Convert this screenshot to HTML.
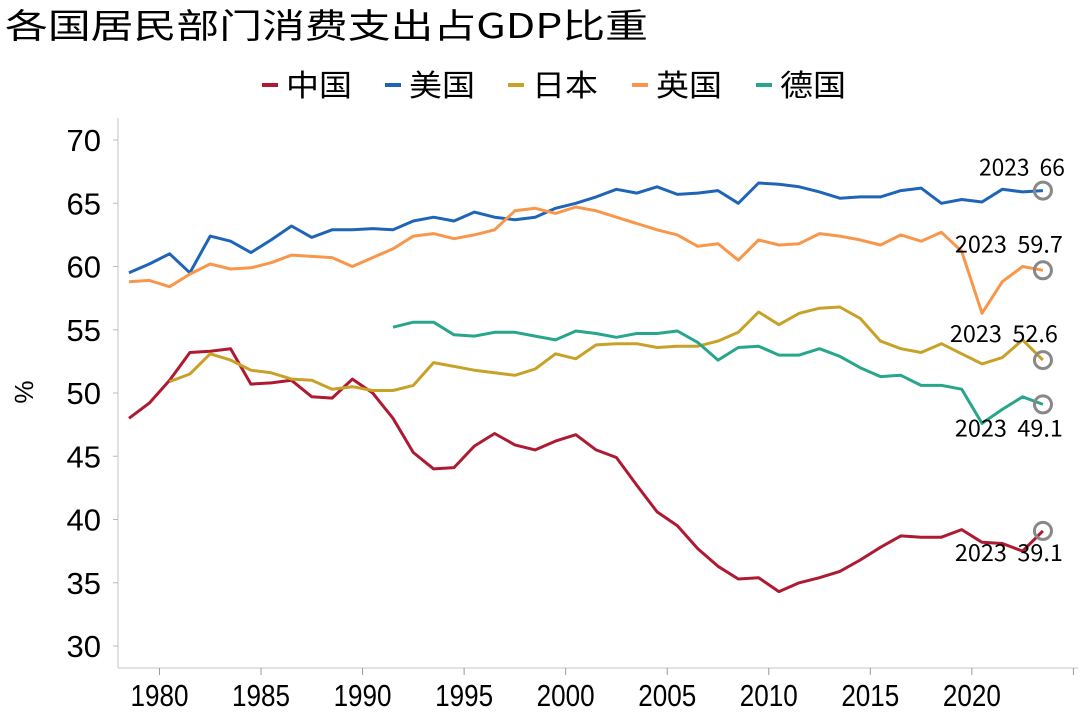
<!DOCTYPE html>
<html><head><meta charset="utf-8">
<style>
html,body{margin:0;padding:0;background:#fff;}
svg{display:block;font-family:"Liberation Sans","Noto Sans CJK SC",sans-serif;}
</style></head>
<body>
<svg id="chart" width="1080" height="719" viewBox="0 0 1080 719" xmlns="http://www.w3.org/2000/svg">
<text x="5" y="38" font-size="34" font-family="'Noto Sans CJK SC',sans-serif" fill="#000" textLength="643" lengthAdjust="spacingAndGlyphs">各国居民部门消费支出占GDP比重</text>
<g id="legend"></g>
<g id="axes"></g>
<g id="series"></g>
<g id="annot"></g>
</svg>
<script>
const names = ["中国","美国","日本","英国","德国"];
const colors = ["#ae1a31","#1f65b7","#c8a228","#f8974b","#28a68c"];
const startYears = [1978,1978,1980,1978,1991];
const china = [48,49.2,51,53.2,53.3,53.5,50.7,50.8,51,49.7,49.6,51.1,50,48,45.3,44,44.1,45.8,46.8,45.9,45.5,46.2,46.7,45.5,44.9,42.7,40.6,39.5,37.7,36.3,35.3,35.4,34.3,35,35.4,35.9,36.8,37.8,38.7,38.6,38.6,39.2,38.2,38.1,37.5,39.1];
const usa = [59.5,60.2,61,59.5,62.4,62,61.1,62.1,63.2,62.3,62.9,62.9,63,62.9,63.6,63.9,63.6,64.3,63.9,63.7,63.9,64.6,65,65.5,66.1,65.8,66.3,65.7,65.8,66,65,66.6,66.5,66.3,65.9,65.4,65.5,65.5,66,66.2,65,65.3,65.1,66.1,65.9,66];
const japan = [50.9,51.5,53.1,52.6,51.8,51.6,51.1,51,50.3,50.5,50.2,50.2,50.6,52.4,52.1,51.8,51.6,51.4,51.9,53.1,52.7,53.8,53.9,53.9,53.6,53.7,53.7,54.1,54.8,56.4,55.4,56.3,56.7,56.8,55.9,54.1,53.5,53.2,53.9,53.1,52.3,52.8,54.2,52.6];
const uk = [58.8,58.9,58.4,59.4,60.2,59.8,59.9,60.3,60.9,60.8,60.7,60,60.7,61.4,62.4,62.6,62.2,62.5,62.9,64.4,64.6,64.2,64.7,64.4,63.9,63.4,62.9,62.5,61.6,61.8,60.5,62.1,61.7,61.8,62.6,62.4,62.1,61.7,62.5,62,62.7,61.2,56.3,58.8,60,59.7];
const germany = [55.2,55.6,55.6,54.6,54.5,54.8,54.8,54.5,54.2,54.9,54.7,54.4,54.7,54.7,54.9,54,52.6,53.6,53.7,53,53,53.5,52.9,52,51.3,51.4,50.6,50.6,50.3,47.6,48.7,49.7,49.1];
const yTicks = [30,35,40,45,50,55,60,65,70];
const xTickLabels = ["1980","1985","1990","1995","2000","2005","2010","2015","2020"];
const annotLabels = ["2023\u00a0 39.1","2023\u00a0 66","2023\u00a0 52.6","2023\u00a0 59.7","2023\u00a0 49.1"];

const NS="http://www.w3.org/2000/svg";
function mk(tag, attrs, parent){const e=document.createElementNS(NS,tag);for(const k in attrs)e.setAttribute(k,attrs[k]);parent.appendChild(e);return e;}
function x(yr){return 129 + (yr-1978)*20.31;}
function y(v){return 646 - (v-30)*12.65;}
const axes=document.getElementById('axes');
const seriesG=document.getElementById('series');
const annot=document.getElementById('annot');
const legend=document.getElementById('legend');

let yl=mk('line',{x1:118,y1:118,x2:118,y2:668,stroke:'#d9d9d9','stroke-width':1.5},axes);


let xl=mk('line',{x1:118,y1:668,x2:1078,y2:668,stroke:'#d9d9d9','stroke-width':1.5},axes);


yTicks.forEach(v=>{
  const t=mk('line',{x1:113,x2:118,y1:y(v),y2:y(v),stroke:'#bbb','stroke-width':1},axes);
  
  
  const l=mk('text',{x:101,y:y(v)+11,'font-size':31,'text-anchor':'end',fill:'#000'},axes);
  
  
  l.textContent=v;
});
for(let i=0;i<=9;i++){
  const tx=x(1979.5+5*i);
  const t=mk('line',{x1:tx,x2:tx,y1:668,y2:675,stroke:'#999','stroke-width':1},axes);
  
  
}
xTickLabels.forEach((s,i)=>{
  const l=mk('text',{x:x(1979.5+5*i),y:706,'font-size':31,'text-anchor':'middle',fill:'#000',textLength:58,lengthAdjust:'spacingAndGlyphs'},axes);
  
  
  l.textContent=s;
});
const yt=mk('text',{x:0,y:0,'font-size':26,'text-anchor':'middle',fill:'#000',transform:'translate(33,392) rotate(-90)'},axes);


yt.textContent='%';

const data=[china,usa,japan,uk,germany];
const seriesNames=['china-line','usa-line','japan-line','uk-line','germany-line'];
data.forEach((arr,si)=>{
  const pts=arr.map((v,i)=>x(startYears[si]+i).toFixed(1)+','+y(v).toFixed(1)).join(' ');
  const p=mk('polyline',{points:pts,fill:'none',stroke:colors[si],'stroke-width':3,'stroke-linejoin':'round'},seriesG);
  
  
});

const annOffsets=[[-88,30],[-64,-15],[-93,-18],[-88,-18],[-88,32]];
const annWidths=[108,86,108,108,108];
data.forEach((arr,si)=>{
  const last=arr[arr.length-1];
  const cx=x(startYears[si]+arr.length-1), cy=y(last);
  const c=mk('circle',{cx:cx,cy:cy,r:8.5,fill:'none',stroke:'#888','stroke-width':3},annot);
  
  
  const t=mk('text',{x:cx+annOffsets[si][0],y:cy+annOffsets[si][1],'font-size':23,fill:'#000','font-family':"'Noto Sans CJK SC',sans-serif",textLength:annWidths[si],lengthAdjust:'spacingAndGlyphs'},annot);
  
  
  t.textContent=annotLabels[si];
});

const legX=[262,385,508,632,756];
const legNames=['legend-china','legend-usa','legend-japan','legend-uk','legend-germany'];
names.forEach((n,i)=>{
  const g=mk('g',{},legend);
  
  
  mk('line',{x1:legX[i],x2:legX[i]+16,y1:85,y2:85,stroke:colors[i],'stroke-width':4},g);
  const t=mk('text',{x:legX[i]+24,y:96,'font-size':30,fill:'#000','font-family':"'Noto Sans CJK SC',sans-serif",textLength:66,lengthAdjust:'spacingAndGlyphs'},g);
  t.textContent=n;
});
</script>
</body></html>
